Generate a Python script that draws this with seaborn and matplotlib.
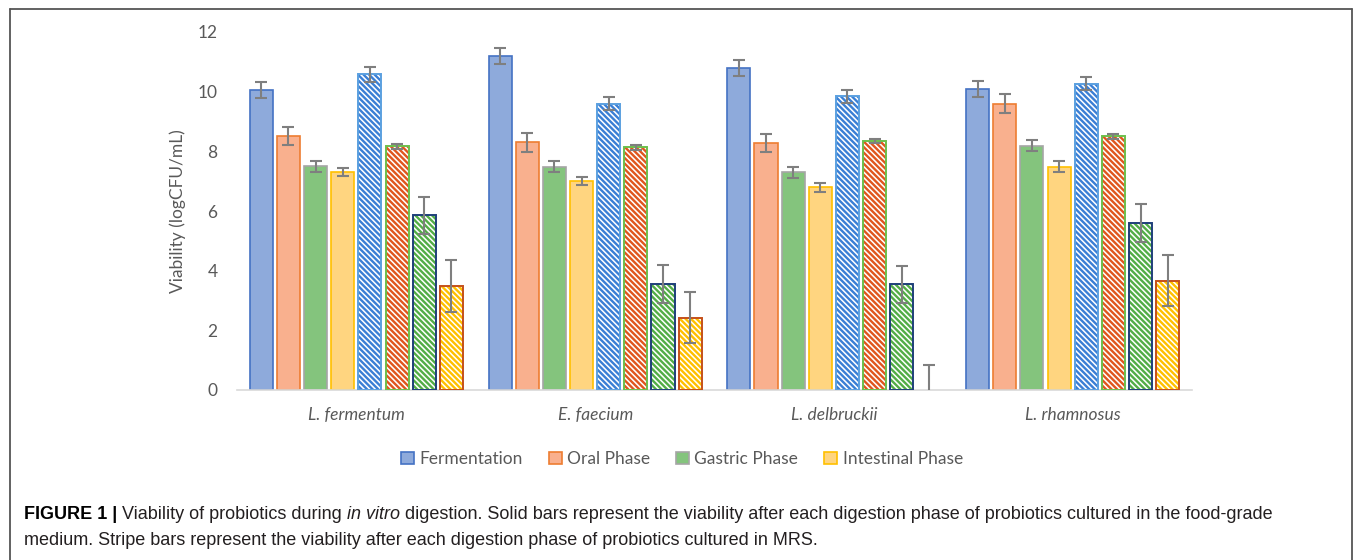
import pandas as pd
import matplotlib
matplotlib.use("Agg")
import matplotlib.pyplot as plt
from matplotlib.patches import Patch, Rectangle
from matplotlib.lines import Line2D
from matplotlib import font_manager
import seaborn as sns

# --- Data ---
species = ["L. fermentum", "E. faecium", "L. delbruckii", "L. rhamnosus"]
phases = ["Fermentation", "Oral Phase", "Gastric Phase", "Intestinal Phase"]

# food-grade medium (solid bars)
food_fermentation = [10.05, 11.20, 10.80, 10.09]
food_oral = [8.50, 8.30, 8.27, 9.60]
food_gastric = [7.50, 7.49, 7.30, 8.19]
food_intestinal = [7.30, 7.01, 6.80, 7.49]
# MRS (stripe bars)
mrs_fermentation = [10.58, 9.60, 9.85, 10.27]
mrs_oral = [8.17, 8.14, 8.35, 8.50]
mrs_gastric = [5.85, 3.56, 3.54, 5.59]
mrs_intestinal = [3.49, 2.42, 0.00, 3.67]

# standard deviations
food_fermentation_err = [0.27, 0.27, 0.26, 0.28]
food_oral_err = [0.30, 0.31, 0.30, 0.31]
food_gastric_err = [0.18, 0.19, 0.19, 0.19]
food_intestinal_err = [0.14, 0.14, 0.15, 0.17]
mrs_fermentation_err = [0.24, 0.21, 0.22, 0.22]
mrs_oral_err = [0.09, 0.08, 0.08, 0.09]
mrs_gastric_err = [0.62, 0.63, 0.63, 0.63]
mrs_intestinal_err = [0.86, 0.85, 0.84, 0.86]

conditions = [p + " (food-grade)" for p in phases] + [p + " (MRS)" for p in phases]
values = [food_fermentation, food_oral, food_gastric, food_intestinal,
          mrs_fermentation, mrs_oral, mrs_gastric, mrs_intestinal]
errors = [food_fermentation_err, food_oral_err, food_gastric_err, food_intestinal_err,
          mrs_fermentation_err, mrs_oral_err, mrs_gastric_err, mrs_intestinal_err]

rows = []
for cond, vals, errs in zip(conditions, values, errors):
    for sp, v, e in zip(species, vals, errs):
        rows.append({"species": sp, "condition": cond, "value": v, "err": e})
df = pd.DataFrame(rows)

# --- Styling ---
fills = ["#8eaadb", "#f9b08e", "#84c47d", "#ffd580", "white", "white", "white", "white"]
edges = ["#4472c4", "#ed7d31", "#a5a5a5", "#ffc000", "#5ba0e0", "#6cbf4c", "#1f3f7a", "#c5501a"]
stripes = [None, None, None, None, "#3a7fd5", "#e0561d", "#52ad46", "#ffc000"]

sns.set_style("white")
plt.rcParams["font.family"] = ["Lato", "DejaVu Sans"]
plt.rcParams["hatch.linewidth"] = 1.7
grey = "#595959"

available = {f.name for f in font_manager.fontManager.ttflist}
cap_family = "Liberation Sans Narrow" if "Liberation Sans Narrow" in available else "Liberation Sans"

W, H = 1355, 560
fig = plt.figure(figsize=(W / 100, H / 100), dpi=100)
ax = fig.add_axes([237 / W, 1 - 390 / H, (1192 - 237) / W, (390 - 32) / H])

sns.barplot(data=df, x="species", y="value", hue="condition", hue_order=conditions,
            palette=fills, width=0.91, gap=0.15, errorbar=None, legend=False,
            saturation=1, ax=ax)

bar_groups = list(ax.containers)
for i, cont in enumerate(bar_groups):
    xs = []
    for bar in cont.patches:
        xs.append(bar.get_x() + bar.get_width() / 2)
        if stripes[i] is None:
            bar.set_edgecolor(edges[i])
            bar.set_linewidth(1.2)
        else:
            bar.set_facecolor("white")
            bar.set_hatch("\\" * 6)
            bar.set_edgecolor(stripes[i])
            bar.set_linewidth(0)
            if bar.get_height() > 0:
                ax.add_patch(Rectangle((bar.get_x(), bar.get_y()), bar.get_width(), bar.get_height(),
                                       fill=False, edgecolor=edges[i], linewidth=1.4, zorder=3))
    ax.errorbar(xs, values[i], yerr=errors[i], fmt="none", ecolor="#7f7f7f",
                elinewidth=1.5, capsize=4, capthick=1.5, zorder=5)

ax.set_ylim(0, 12)
ax.set_yticks(range(0, 13, 2))
ax.set_xlim(-0.5, 3.5)
ax.set_xlabel("")
ax.set_ylabel("Viability (logCFU/mL)", fontsize=12.5, color=grey, labelpad=8)
for s in ["top", "right", "left"]:
    ax.spines[s].set_visible(False)
ax.spines["bottom"].set_color("#d9d9d9")
ax.spines["bottom"].set_linewidth(1.2)
ax.tick_params(axis="y", length=0, pad=14, labelsize=12.5, labelcolor=grey)
ax.tick_params(axis="x", length=0, pad=12, labelsize=12.5, labelcolor=grey)
for lab in ax.get_xticklabels():
    lab.set_fontstyle("italic")

# legend: only the solid series
handles = [Patch(facecolor=fills[i], edgecolor=edges[i], linewidth=1.2) for i in range(4)]
fig.legend(handles, phases, loc="center", bbox_to_anchor=(682 / W, 1 - 459 / H), ncol=4,
           frameon=False, handlelength=0.75, handleheight=0.75, handletextpad=0.3,
           columnspacing=1.5, fontsize=12.5, labelcolor=grey)

# frame around the figure panel
frame_kw = dict(color="#555555", linewidth=1.3, transform=fig.transFigure)
fig.add_artist(Line2D([9.5 / W, 9.5 / W], [0, 1 - 8.5 / H], **frame_kw))
fig.add_artist(Line2D([9.5 / W, 1352 / W], [1 - 8.5 / H, 1 - 8.5 / H], **frame_kw))
fig.add_artist(Line2D([1352 / W, 1352 / W], [0, 1 - 8.5 / H], **frame_kw))

# caption with mixed bold / italic pieces
renderer = fig.canvas.get_renderer()
cap_size = 13


def put_line(pieces, x0, y0):
    x = x0
    for txt, weight, style, color in pieces:
        t = fig.text(x / W, 1 - y0 / H, txt, fontsize=cap_size, fontweight=weight,
                     fontstyle=style, family=cap_family, va="baseline", ha="left", color=color)
        x = t.get_window_extent(renderer).x1


ink = "#231f20"
put_line([("FIGURE 1 |", "bold", "normal", "black"),
          (" Viability of probiotics during ", "normal", "normal", ink),
          ("in vitro", "normal", "italic", ink),
          (" digestion. Solid bars represent the viability after each digestion phase of "
           "probiotics cultured in the food-grade", "normal", "normal", ink)], 24, 519)
put_line([("medium. Stripe bars represent the viability after each digestion phase of "
           "probiotics cultured in MRS.", "normal", "normal", ink)], 24, 545)

fig.savefig("out.png", dpi=100)
